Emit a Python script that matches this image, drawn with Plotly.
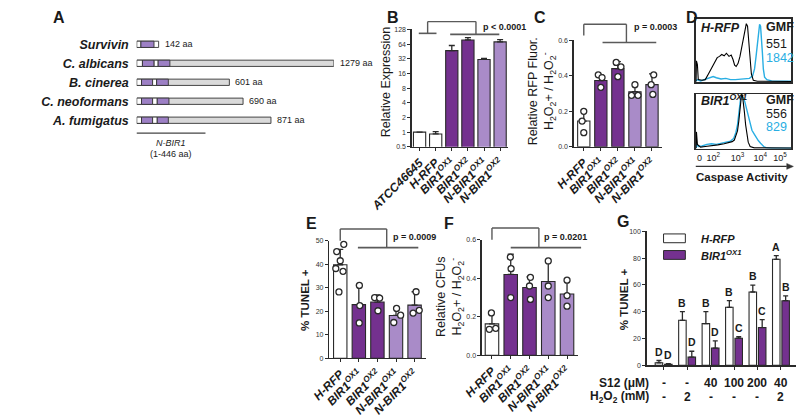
import math
import plotly.graph_objects as go

W, H = 800, 417
FONT = "Liberation Sans, Arial, Helvetica, sans-serif"
NARROW = "Liberation Sans Narrow, Arial Narrow, Liberation Sans, Arial, sans-serif"
INK = "#1a1a1a"
AXC = "#2a2a2a"
BRK = "#5a5a5a"
DARK = "#74318f"
LIGHT = "#a98bc8"
DOMC = "#9d80c5"
GREY = "#dadada"
CYAN = "#29aee3"

# ---------------- data ----------------
A_names = ["Survivin", "C. albicans", "B. cinerea", "C. neoformans", "A. fumigatus"]
A_length = [142, 1279, 601, 690, 871]
A_bir1_start = [27, 37, 31, 31, 31]
A_bir1_end = [112, 113, 103, 103, 103]
A_bir2_start = [None, 139, 129, 133, 133]
A_bir2_end = [None, 215, 205, 209, 205]
A_nbir1 = [1, 446]

B_labels = ["ATCC46645", "H-RFP", "BIR1<sup>OX1</sup>", "BIR1<sup>OX2</sup>",
            "N-BIR1<sup>OX1</sup>", "N-BIR1<sup>OX2</sup>"]
B_values = [1.0, 0.92, 47, 78, 31, 71]
B_errors = [0, 0.11, 13, 9, 1.6, 8]
B_yticks = [0.5, 1, 2, 4, 8, 16, 32, 64, 128]
B_pvalue = "p &lt; 0.0001"

STRAINS = ["H-RFP", "BIR1<sup>OX1</sup>", "BIR1<sup>OX2</sup>",
           "N-BIR1<sup>OX1</sup>", "N-BIR1<sup>OX2</sup>"]

C_values = [0.145, 0.373, 0.44, 0.31, 0.35]
C_errors = [0.06, 0.032, 0.04, 0.04, 0.06]
C_points = [[0.20, 0.145, 0.08], [0.405, 0.39, 0.335], [0.475, 0.45, 0.395],
            [0.35, 0.29, 0.29], [0.405, 0.35, 0.295]]
C_yticks = [0.0, 0.2, 0.4, 0.6]
C_pvalue = "p = 0.0003"

D_tickpos = [40, 182, 436, 673, 881]
D_ticktext = ["0", "10<sup>2</sup>", "10<sup>3</sup>", "10<sup>4</sup>", "10<sup>5</sup>"]
D_top_black_x = [3, 7, 17, 26, 66, 99, 132, 165, 198, 224, 248, 271, 297, 320, 347, 370, 389,
                 406, 422, 442, 462, 482, 498, 515, 528, 541, 551, 564, 581, 601, 644, 1000]
D_top_black_y = [0, 0.33, 0.27, 0.03, 0.02, 0.03, 0.12, 0.22, 0.31, 0.38, 0.40, 0.43, 0.41,
                 0.45, 0.40, 0.42, 0.35, 0.26, 0.24, 0.29, 0.40, 0.56, 0.72, 0.86, 0.92, 0.88,
                 0.72, 0.40, 0.12, 0.02, 0.005, 0]
D_top_cyan_x = [3, 17, 50, 99, 149, 182, 215, 264, 314, 363, 413, 462, 512, 561, 594, 614, 630,
                644, 657, 667, 677, 686, 696, 706, 719, 743, 792, 891, 1000]
D_top_cyan_y = [0.01, 0.03, 0.01, 0.04, 0.07, 0.08, 0.06, 0.04, 0.05, 0.03, 0.03, 0.04, 0.04,
                0.05, 0.09, 0.20, 0.40, 0.64, 0.84, 0.91, 0.88, 0.72, 0.46, 0.20, 0.07, 0.03,
                0.01, 0.005, 0.005]
D_bot_black_x = [3, 7, 17, 50, 99, 165, 231, 297, 347, 380, 403, 422, 436, 449, 462, 472, 479,
                 488, 498, 508, 521, 535, 548, 568, 611, 1000]
D_bot_black_y = [0, 0.30, 0.07, 0.02, 0.03, 0.04, 0.06, 0.08, 0.10, 0.12, 0.15, 0.23, 0.32,
                 0.49, 0.73, 0.91, 1.0, 0.97, 0.85, 0.67, 0.43, 0.23, 0.11, 0.03, 0.006, 0]
D_bot_cyan_x = [3, 7, 26, 66, 116, 165, 215, 264, 314, 363, 396, 419, 436, 449, 462, 472, 482,
                495, 512, 528, 548, 568, 587, 611, 634, 653, 677, 693, 710, 733, 792, 1000]
D_bot_cyan_y = [0, 0.08, 0.03, 0.04, 0.07, 0.08, 0.07, 0.09, 0.11, 0.13, 0.18, 0.29, 0.43,
                0.67, 0.88, 0.97, 0.96, 0.94, 0.86, 0.74, 0.58, 0.43, 0.33, 0.26, 0.18, 0.14,
                0.09, 0.06, 0.03, 0.01, 0, 0]
D_top_name = "H-RFP"
D_bot_name = "BIR1<sup>OX1</sup>"
D_top_gmf = ["551", "1842"]
D_bot_gmf = ["556", "829"]

E_values = [39.8, 22.8, 23.9, 18.2, 22.6]
E_errors = [6.5, 8.3, 3.0, 3.0, 5.7]
E_points = [[48.5, 45.4, 41.5, 38.2, 37.0, 28.2], [31.0, 22.4, 15.0], [25.8, 25.6, 20.2],
            [21.2, 18.3, 15.2], [28.3, 20.4, 19.2]]
E_yticks = [0, 10, 20, 30, 40, 50]
E_pvalue = "p = 0.0009"

F_values = [0.163, 0.42, 0.352, 0.383, 0.318]
F_errors = [0.06, 0.105, 0.055, 0.105, 0.072]
F_points = [[0.22, 0.135, 0.14], [0.51, 0.45, 0.30], [0.405, 0.36, 0.29],
            [0.49, 0.36, 0.30], [0.39, 0.31, 0.255]]
F_yticks = [0.0, 0.2, 0.4, 0.6]
F_pvalue = "p = 0.0201"

G_white = [1.9, 33.6, 31.1, 43.3, 54.7, 79.1]
G_white_err = [1.7, 6.5, 9.0, 4.9, 5.2, 2.7]
G_purple = [0.7, 6.1, 12.9, 20.2, 28.2, 48.2]
G_purple_err = [0.5, 4.4, 5.3, 1.2, 5.9, 3.6]
G_white_letters = ["D", "B", "B", "B", "B", "A"]
G_purple_letters = ["D", "D", "D", "C", "C", "B"]
G_S12 = ["-", "-", "40", "100", "200", "40"]
G_H2O2 = ["-", "2", "-", "-", "-", "2"]
G_yticks = [0, 20, 40, 60, 80, 100]

# ---------------- style / layout helpers ----------------
STRAIN_FILL = ["white", DARK, DARK, LIGHT, LIGHT]
B_FILL = ["white", "white", DARK, DARK, LIGHT, LIGHT]
C_JIT = [[0, -0.1, 0], [-0.15, 0.07, 0], [-0.1, 0.18, 0], [0, -0.2, 0.18], [0.1, -0.05, 0.05]]
E_JIT = [[0.19, -0.19, 0, -0.24, 0.15, -0.07], [0.03, 0.05, 0.02], [-0.15, 0.12, 0.03],
         [0.03, 0.25, -0.12], [0.08, 0.25, -0.08]]
F_JIT = [[-0.03, -0.14, 0.2], [-0.02, 0.02, 0], [0.05, 0, 0.05], [0, 0, 0], [0, 0, 0]]

PANELS = {
    "A": dict(xa="x", ya="y", px=(100, 308), py=(31.5, 128.5), xr=(0, 1279)),
    "B": dict(xa="x2", ya="y2", px=(390, 492), py=(26, 146), xr=(-0.5, 5.5)),
    "C": dict(xa="x3", ya="y3", px=(561, 654.6), py=(37, 146), xr=(-0.6, 4.6)),
    "D1": dict(xa="x4", ya="y4", px=(690, 791), py=(15, 80), xr=(0, 1000)),
    "D2": dict(xa="x5", ya="y5", px=(690, 791), py=(92, 148), xr=(0, 1000)),
    "E": dict(xa="x6", ya="y6", px=(303, 405), py=(242, 362), xr=(-0.6, 4.6)),
    "F": dict(xa="x7", ya="y7", px=(464, 566), py=(241, 359), xr=(-0.55, 4.6)),
    "G": dict(xa="x8", ya="y8", px=(638, 796), py=(232.3, 369.3), xr=(-0.73, 5.65)),
}


def fx(p):
    return p / W


def fy(p):
    return 1 - p / H


def xpix(panel, v):
    p = PANELS[panel]
    a, b = p["px"]
    r0, r1 = p["xr"]
    return a + (v - r0) / (r1 - r0) * (b - a)


fig = go.Figure()
shapes = []
annos = []
layout_axes = {}


def axkeys(panel):
    p = PANELS[panel]
    return "xaxis" + p["xa"][1:], "yaxis" + p["ya"][1:]


def set_domains(panel):
    p = PANELS[panel]
    xk, yk = axkeys(panel)
    layout_axes[xk] = dict(domain=[fx(p["px"][0]), fx(p["px"][1])], anchor=p["ya"],
                           range=list(p["xr"]))
    layout_axes[yk] = dict(domain=[fy(p["py"][1]), fy(p["py"][0])], anchor=p["xa"])


def text(x, y, s, size=10, color=INK, bold=False, italic=False, xanchor="center",
         yanchor="middle", angle=0, family=FONT):
    annos.append(dict(x=fx(x), y=fy(y), xref="paper", yref="paper", text=s, showarrow=False,
                      xanchor=xanchor, yanchor=yanchor, textangle=angle,
                      font=dict(size=size, color=color, family=family,
                                weight="bold" if bold else "normal",
                                style="italic" if italic else "normal")))


def seg(x0, y0, x1, y1, color=BRK, width=1.4):
    shapes.append(dict(type="line", xref="paper", yref="paper", x0=fx(x0), y0=fy(y0),
                       x1=fx(x1), y1=fy(y1), line=dict(color=color, width=width)))


def bracket(panel, left, right, ytop, yleft, yright, rspan, lspan=None):
    xl, xr = xpix(panel, left), xpix(panel, right)
    seg(xl, ytop, xr, ytop)
    seg(xl, ytop, xl, yleft)
    seg(xr, ytop, xr, yright)
    seg(xpix(panel, rspan[0]), yright, xpix(panel, rspan[1]), yright, width=1.6)
    if lspan:
        seg(xpix(panel, lspan[0]), yleft, xpix(panel, lspan[1]), yleft, width=1.6)


YTICKFONT = dict(size=7, color="#333", family=FONT)
XLABFONT = dict(size=12, color=INK, family=FONT, weight="bold", style="italic")


def bar_axes(panel, ticks, ticktext, labels, ylog=False):
    xk, yk = axkeys(panel)
    n = len(labels) if labels else 0
    layout_axes[xk].update(showline=True, linecolor=AXC, linewidth=1.2, ticks="outside",
                           ticklen=3, tickwidth=1, tickcolor=AXC, tickvals=list(range(n)),
                           tickangle=-45, tickfont=XLABFONT,
                           showgrid=False, zeroline=False, fixedrange=True)
    if labels:
        layout_axes[xk]["ticktext"] = labels
    layout_axes[yk].update(showline=True, linecolor=AXC, linewidth=1.2, ticks="outside",
                           ticklen=3, tickwidth=1, tickcolor=AXC, tickvals=ticks,
                           ticktext=ticktext, tickfont=YTICKFONT, showgrid=False,
                           zeroline=False, type="log" if ylog else "linear",
                           range=PANELS[panel]["yr_axis"])


# ---------------- Panel A ----------------
set_domains("A")
rev = A_names[::-1]
base_fill = ["white"] + [GREY] * 4
bw = 0.33
common = dict(orientation="h", xaxis="x", yaxis="y", width=bw, showlegend=False,
              hoverinfo="skip")
fig.add_trace(go.Bar(y=A_names, x=A_length, base=[0] * 5,
                     marker=dict(color=base_fill, line=dict(color="#333", width=0.9)), **common))
fig.add_trace(go.Bar(y=A_names, x=A_bir1_start, base=[0] * 5,
                     marker=dict(color="white", line=dict(color="#333", width=0.9)), **common))
fig.add_trace(go.Bar(y=A_names, x=[e - s for s, e in zip(A_bir1_start, A_bir1_end)],
                     base=A_bir1_start,
                     marker=dict(color=DOMC, line=dict(color="#333", width=0.9)), **common))
gap_len = [None if s is None else s - e for s, e in zip(A_bir2_start, A_bir1_end)]
fig.add_trace(go.Bar(y=A_names, x=gap_len, base=A_bir1_end,
                     marker=dict(color="white", line=dict(color="#333", width=0.9)), **common))
fig.add_trace(go.Bar(y=A_names,
                     x=[None if s is None else e - s for s, e in zip(A_bir2_start, A_bir2_end)],
                     base=[0 if s is None else s for s in A_bir2_start],
                     marker=dict(color=DOMC, line=dict(color="#333", width=0.9)), **common))
layout_axes["xaxis"].update(visible=False, fixedrange=True)
layout_axes["yaxis"].update(type="category", categoryorder="array", categoryarray=rev,
                            range=[-0.5, 4.5], showline=False, ticks="", showgrid=False,
                            ticklabelstandoff=7,
                            tickfont=dict(size=12.5, color=INK, family=FONT, weight="bold",
                                          style="italic"))
for name, L in zip(A_names, A_length):
    annos.append(dict(x=L, y=name, xref="x", yref="y", text=f"{L} aa", showarrow=False,
                      xanchor="left", xshift=4, font=dict(size=9, color=INK, family=FONT)))
nb_y = 132
seg(xpix("A", A_nbir1[0] - 1), nb_y, xpix("A", A_nbir1[1]), nb_y, color="#444", width=1.2)
nb_c = (xpix("A", A_nbir1[0] - 1) + xpix("A", A_nbir1[1])) / 2
text(nb_c, 142, "N-BIR1", size=9, italic=True)
text(nb_c, 153, f"({A_nbir1[0]}-{A_nbir1[1]} aa)", size=9)

# ---------------- Panel B ----------------
PANELS["B"]["yr_axis"] = [math.log10(B_yticks[0]), math.log10(B_yticks[-1])]
set_domains("B")
bar_axes("B", B_yticks, [f"{t:g}" for t in B_yticks], B_labels, ylog=True)
fig.add_trace(go.Bar(x=list(range(len(B_labels))), y=B_values, width=0.76,
                     xaxis="x2", yaxis="y2", showlegend=False,
                     marker=dict(color=B_FILL, line=dict(color=AXC, width=1.1)),
                     error_y=dict(type="data", symmetric=False, array=B_errors,
                                  arrayminus=[0] * len(B_errors), color=AXC,
                                  thickness=1.3, width=3)))
bracket("B", 0.5, 3.5, 18, 30, 31, (1.9, 4.95), lspan=(-0.05, 1.05))
text(463, 24, B_pvalue, size=9, bold=True, xanchor="left")
text(363, 79, "Relative Expression", size=12.5, angle=-90)


# ---------------- dot-bar panels ----------------
def dot_panel(panel, values, errors, points, jit, yticks, yfmt):
    PANELS[panel]["yr_axis"] = [yticks[0], yticks[-1]]
    set_domains(panel)
    bar_axes(panel, yticks, [yfmt(t) for t in yticks], STRAINS)
    p = PANELS[panel]
    n = len(values)
    fig.add_trace(go.Bar(x=list(range(n)), y=values, width=0.72, xaxis=p["xa"], yaxis=p["ya"],
                         showlegend=False,
                         marker=dict(color=STRAIN_FILL, line=dict(color=AXC, width=1.1)),
                         error_y=dict(type="data", symmetric=False, array=errors,
                                      arrayminus=[0] * n, color=AXC, thickness=1.3, width=3)))
    xs, ys = [], []
    for i, (pts, jj) in enumerate(zip(points, jit)):
        for v, j in zip(pts, jj):
            xs.append(i + j)
            ys.append(v)
    fig.add_trace(go.Scatter(x=xs, y=ys, mode="markers", xaxis=p["xa"], yaxis=p["ya"],
                             showlegend=False, cliponaxis=False,
                             marker=dict(size=6, color="white",
                                         line=dict(color=AXC, width=1.3))))


dot_panel("C", C_values, C_errors, C_points, C_JIT, C_yticks, lambda t: f"{t:.1f}")
bracket("C", 0.0, 2.5, 20.7, 32.3, 39.3, (1.1, 4.25))
text(648, 24, C_pvalue, size=9, bold=True)
H2O2_TXT = "H<sub>2</sub>O<sub>2</sub>+ / H<sub>2</sub>O<sub>2</sub><sup>-</sup>"
text(528, 89, "Relative RFP Fluor.<br>" + H2O2_TXT, size=12.5, angle=-90)

dot_panel("E", E_values, E_errors, E_points, E_JIT, E_yticks, lambda t: f"{t:g}")
bracket("E", 0.0, 2.5, 230, 242, 249, (0.95, 4.2))
text(393, 238, E_pvalue, size=9, bold=True)
text(278, 302, "% TUNEL +", size=11.5, bold=True, angle=-90)

dot_panel("F", F_values, F_errors, F_points, F_JIT, F_yticks, lambda t: f"{t:.1f}")
bracket("F", 0.0, 2.5, 229, 241, 249, (1.0, 4.75))
text(552, 238, F_pvalue, size=9, bold=True)
text(430, 299, "Relative CFUs<br>" + H2O2_TXT, size=12.5, angle=-90)

# ---------------- Panel D ----------------
for key, bx, by, cx, cy, last in [("D1", D_top_black_x, D_top_black_y, D_top_cyan_x,
                                   D_top_cyan_y, False),
                                  ("D2", D_bot_black_x, D_bot_black_y, D_bot_cyan_x,
                                   D_bot_cyan_y, True)]:
    set_domains(key)
    p = PANELS[key]
    xk, yk = axkeys(key)
    layout_axes[xk].update(showline=True, mirror=True, linecolor=AXC, linewidth=1.3,
                           showgrid=False, zeroline=False, ticks="",
                           showticklabels=last, tickvals=D_tickpos, ticktext=D_ticktext,
                           tickfont=dict(size=9, color=INK, family=FONT))
    layout_axes[yk].update(showline=True, mirror=True, linecolor=AXC, linewidth=1.3,
                           showgrid=False, zeroline=False, ticks="", showticklabels=False,
                           range=[-0.012, 1.0])
    fig.add_trace(go.Scatter(x=cx, y=cy, mode="lines", xaxis=p["xa"], yaxis=p["ya"],
                             showlegend=False, line=dict(color=CYAN, width=1.4)))
    fig.add_trace(go.Scatter(x=bx, y=by, mode="lines", xaxis=p["xa"], yaxis=p["ya"],
                             showlegend=False, line=dict(color="black", width=1.1)))

text(693, 25, D_top_name, size=12.5, bold=True, italic=True, xanchor="left")
text(762, 23, "GMF", size=12.5, bold=True, xanchor="left")
text(762, 41, D_top_gmf[0], size=12.5, xanchor="left")
text(762, 55, D_top_gmf[1], size=12.5, color=CYAN, xanchor="left")
text(693, 98, D_bot_name, size=12.5, bold=True, italic=True, xanchor="left")
text(762, 98, "GMF", size=12.5, bold=True, xanchor="left")
text(762, 112, D_bot_gmf[0], size=12.5, xanchor="left")
text(762, 126, D_bot_gmf[1], size=12.5, color=CYAN, xanchor="left")
seg(690, 166, 786, 166, color="#333", width=1.4)
shapes.append(dict(type="path", xref="paper", yref="paper",
                   path=f"M {fx(786)},{fy(163)} L {fx(793)},{fy(166)} L {fx(786)},{fy(169)} Z",
                   fillcolor="#333", line=dict(color="#333", width=0.5)))
text(739, 177, "Caspase Activity", size=11.5, bold=True)

# ---------------- Panel G ----------------
PANELS["G"]["yr_axis"] = [G_yticks[0], G_yticks[-1]]
set_domains("G")
ng = len(G_white)
bar_axes("G", G_yticks, [str(t) for t in G_yticks], None)
layout_axes["xaxis8"].update(tickvals=list(range(ng)), showticklabels=False)
fig.add_trace(go.Bar(x=list(range(ng)), y=G_white, width=0.32, offset=-0.36,
                     xaxis="x8", yaxis="y8", showlegend=False,
                     marker=dict(color="white", line=dict(color=AXC, width=1.1)),
                     error_y=dict(type="data", symmetric=False, array=G_white_err,
                                  arrayminus=[0] * ng, color=AXC, thickness=1.3, width=2.5)))
fig.add_trace(go.Bar(x=list(range(ng)), y=G_purple, width=0.32, offset=0.04,
                     xaxis="x8", yaxis="y8", showlegend=False,
                     marker=dict(color=DARK, line=dict(color=AXC, width=1.1)),
                     error_y=dict(type="data", symmetric=False, array=G_purple_err,
                                  arrayminus=[0] * ng, color=AXC, thickness=1.3, width=2.5)))
for i in range(ng):
    for off, v, e, lab in [(-0.2, G_white[i], G_white_err[i], G_white_letters[i]),
                           (0.2, G_purple[i], G_purple_err[i], G_purple_letters[i])]:
        annos.append(dict(x=i + off, y=v + e, xref="x8", yref="y8", text=lab,
                          showarrow=False, yanchor="bottom", yshift=1,
                          font=dict(size=10.5, color=INK, family=FONT, weight="bold")))
    text(xpix("G", i), 387, G_S12[i], size=12, bold=True)
    text(xpix("G", i), 402, G_H2O2[i], size=12, bold=True)
text(643, 387, "S12 (μM)", size=12, bold=True, xanchor="right")
text(643, 402, "H<sub>2</sub>O<sub>2</sub> (mM)", size=12, bold=True, xanchor="right")
text(615, 302, "% TUNEL +", size=11.5, bold=True, angle=-90)
shapes.append(dict(type="rect", xref="paper", yref="paper", x0=fx(656), x1=fx(679),
                   y0=fy(244), y1=fy(235), fillcolor="white", line=dict(color=AXC, width=1)))
shapes.append(dict(type="rect", xref="paper", yref="paper", x0=fx(656), x1=fx(679),
                   y0=fy(261), y1=fy(252), fillcolor=DARK, line=dict(color=AXC, width=1)))
text(693, 240, "H-RFP", size=11, bold=True, italic=True, xanchor="left")
text(693, 257, "BIR1<sup>OX1</sup>", size=11, bold=True, italic=True, xanchor="left")

# ---------------- panel letters ----------------
for letter, x, y in [("A", 10, 14), ("B", 362, 14), ("C", 517, 14), ("D", 678, 14),
                     ("E", 276, 224), ("F", 422, 224), ("G", 605, 222)]:
    text(x, y, letter, size=16, bold=True, family=NARROW, xanchor="left")

fig.update_layout(width=W, height=H, autosize=False, margin=dict(l=0, r=0, t=0, b=0),
                  paper_bgcolor="white", plot_bgcolor="white", barmode="overlay",
                  font=dict(family=FONT, color=INK), shapes=shapes, annotations=annos,
                  showlegend=False, hovermode=False, **layout_axes)
fig.write_html("out.html", config={"displayModeBar": False, "staticPlot": True},
               post_script="document.body.style.margin='0';"
                           "document.body.style.overflow='hidden';")
